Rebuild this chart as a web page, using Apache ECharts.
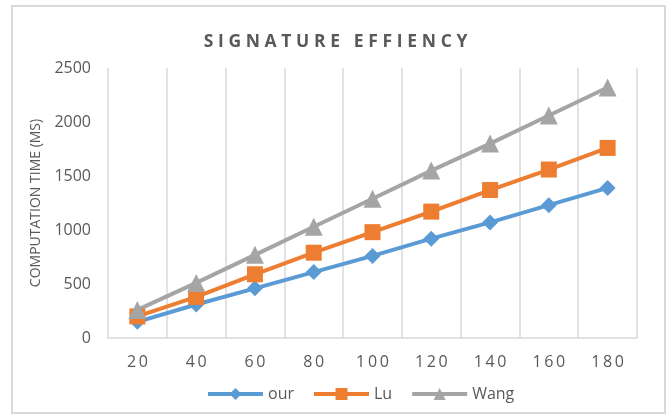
<!DOCTYPE html>
<html><head><meta charset="utf-8">
<script src="https://cdn.jsdelivr.net/npm/echarts@6/dist/echarts.min.js"></script>
<style>html,body{margin:0;padding:0;background:#fff}#c{width:671px;height:415px;position:relative}
#frame{position:absolute;left:11px;top:5px;width:655px;height:409px;border:2px solid #d9d9d9;box-sizing:border-box;pointer-events:none}</style>
</head><body><div id="c"></div><div id="frame"></div>
<script>
const categories = ['20','40','60','80','100','120','140','160','180'];
const ourValues  = [150, 310, 460, 610, 760, 920, 1070, 1230, 1390];
const luValues   = [200, 380, 590, 790, 980, 1170, 1370, 1560, 1760];
const wangValues = [260, 510, 770, 1030, 1290, 1550, 1800, 2060, 2320];
const yTicks = [0, 500, 1000, 1500, 2000, 2500];
const seriesNames = ['our', 'Lu', 'Wang'];
const titleText = 'SIGNATURE EFFIENCY';
const yAxisTitle = 'COMPUTATION TIME (MS)';

const spaced = (s, sep) => s.split('').join(sep || '\u2009');
const chart = echarts.init(document.getElementById('c'), null, {renderer:'canvas'});
const grey = '#595959';
const font = "'Open Sans', sans-serif";
function mk(name, data, color, symbol, size){
  return {name, type:'line', data, symbol, symbolSize:size, showSymbol:true,
    lineStyle:{color, width:4}, itemStyle:{color}, emphasis:{disabled:true}, animation:false};
}
chart.setOption({
  animation:false,
  textStyle:{fontFamily:font},
  title:{text:spaced(titleText, '\u2009\u200A'), left:'center', top:28,
    textStyle:{fontFamily:font, fontSize:17.5, fontWeight:'bold', color:grey}},
  grid:{left:108, right:34, top:68, bottom:77},
  legend:{bottom:8, left:201, itemWidth:55, itemHeight:15, itemGap:18,
    lineStyle:{width:4},
    textStyle:{fontFamily:font, fontSize:16, color:grey},
    data:seriesNames},
  xAxis:{type:'category', data:categories, boundaryGap:true,
    axisLine:{lineStyle:{color:'#d9d9d9', width:1.5}}, axisTick:{show:false},
    splitLine:{show:true, lineStyle:{color:'#d9d9d9', width:1.5}},
    axisLabel:{formatter:v=>spaced(v), color:grey, fontSize:16, margin:16, fontFamily:font}},
  yAxis:{type:'value', min:yTicks[0], max:yTicks[yTicks.length-1], interval:yTicks[1]-yTicks[0],
    name:yAxisTitle, nameLocation:'middle', nameGap:64, nameRotate:90,
    nameTextStyle:{fontFamily:font, fontSize:14, color:grey},
    axisLine:{show:false}, axisTick:{show:false}, splitLine:{show:false},
    axisLabel:{color:grey, fontSize:16, margin:17, fontFamily:font, formatter:v=>String(v)}},
  series:[
    mk(seriesNames[0], ourValues, '#5B9BD5', 'diamond', 16),
    mk(seriesNames[1], luValues, '#ED7D31', 'rect', 16),
    mk(seriesNames[2], wangValues, '#A5A5A5', 'triangle', 18)
  ]
});
</script></body></html>
